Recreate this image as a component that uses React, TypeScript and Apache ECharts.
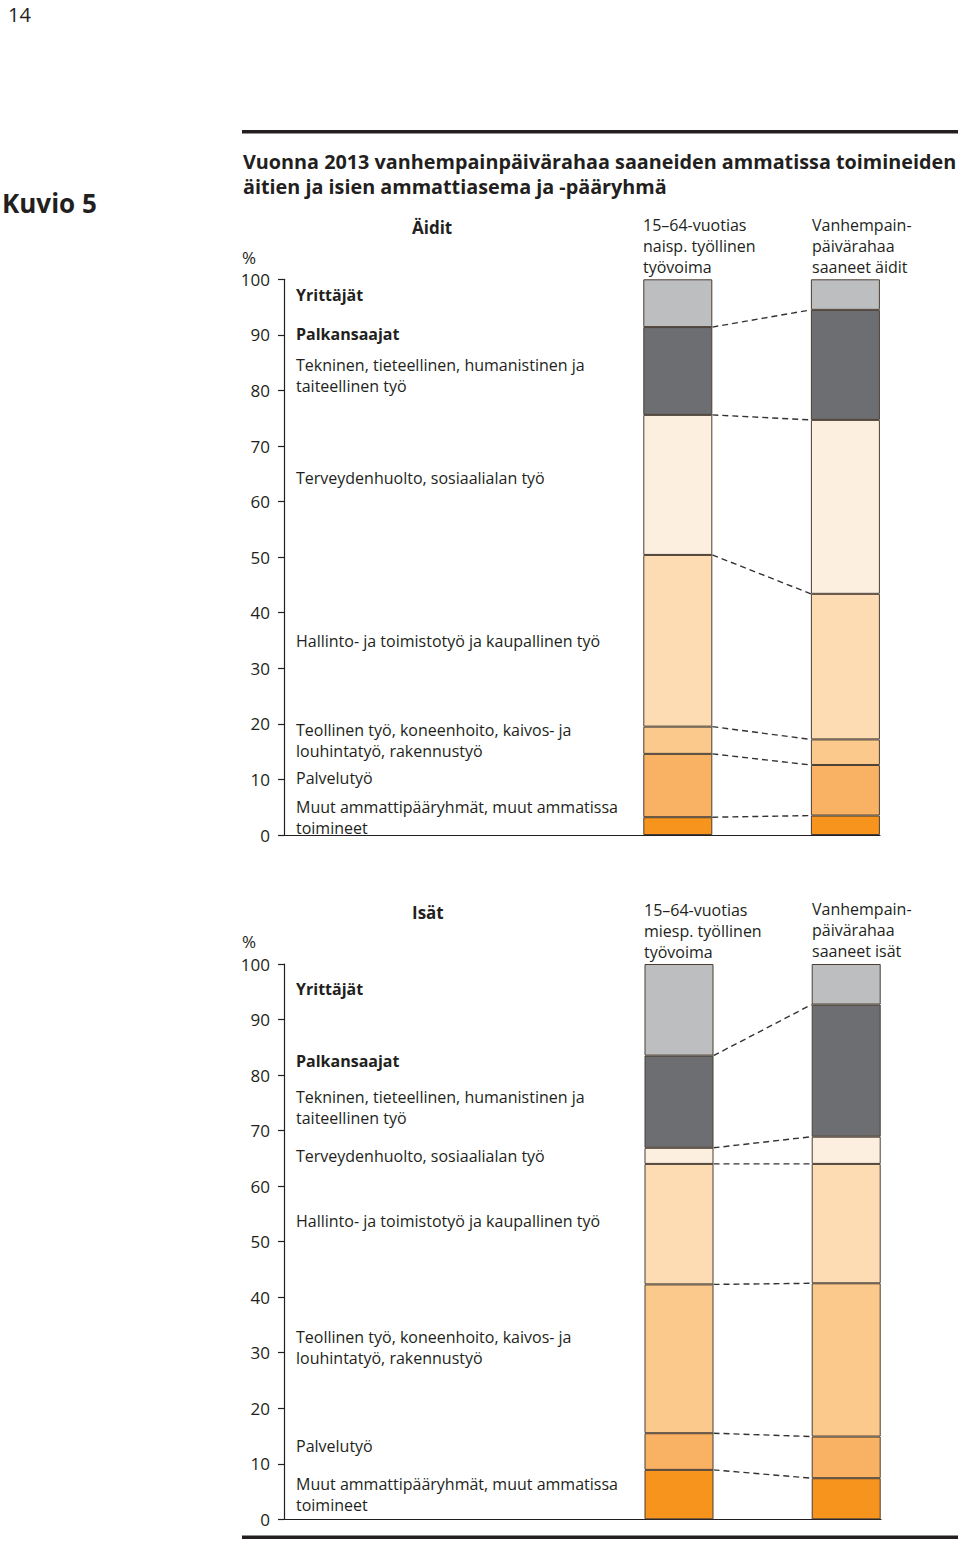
import React, { useEffect, useRef } from "react";
import * as echarts from "echarts";

// Occupational groups, bottom of the stack to top
const groups = [
  "Muut ammattipääryhmät, muut ammatissa toimineet",
  "Palvelutyö",
  "Teollinen työ, koneenhoito, kaivos- ja louhintatyö, rakennustyö",
  "Hallinto- ja toimistotyö ja kaupallinen työ",
  "Terveydenhuolto, sosiaalialan työ",
  "Tekninen, tieteellinen, humanistinen ja taiteellinen työ",
  "Yrittäjät",
];
const groupColors = ["#f7941d", "#f9b163", "#fcc98c", "#fddcb4", "#fdefdf", "#6d6e71", "#bcbec0"];

const motherColumns = ["15–64-vuotias naisp. työllinen työvoima", "Vanhempainpäivärahaa saaneet äidit"];
const fatherColumns = ["15–64-vuotias miesp. työllinen työvoima", "Vanhempainpäivärahaa saaneet isät"];

// Shares (%) per group, bottom to top
const motherWorkforce = [3.2, 11.4, 4.9, 30.9, 25.2, 15.8, 8.6];
const motherRecipients = [3.5, 9.1, 4.6, 26.2, 31.3, 19.8, 5.5];
const fatherWorkforce = [8.9, 6.6, 26.8, 21.7, 2.9, 16.6, 16.5];
const fatherRecipients = [7.4, 7.5, 27.6, 21.5, 4.9, 23.8, 7.3];

const yTicks = [0, 10, 20, 30, 40, 50, 60, 70, 80, 90, 100];

const FONT = "Open Sans";
const INK = "#231f20";
const BAR_W = 69;
const LINE_GAP = 21;

function cumulative(a: number[]) {
  const out: number[] = [];
  let s = 0;
  for (const v of a) {
    s += v;
    out.push(Math.round(s * 10) / 10);
  }
  return out;
}

export default function App() {
  const ref = useRef<HTMLDivElement>(null);
  useEffect(() => {
    if (!ref.current) return;
    const chart = echarts.init(ref.current, undefined, { renderer: "svg" });

    const panels = [
      { top: 279.3, height: 555.7, axisRight: 80, barLeft: 594, barWidth: 335.2, cats: motherColumns, a: motherWorkforce, b: motherRecipients, stack: "m" },
      { top: 964, height: 555.3, axisRight: 79, barLeft: 595.4, barWidth: 334.4, cats: fatherColumns, a: fatherWorkforce, b: fatherRecipients, stack: "f" },
    ];

    const grid: any[] = [];
    const xAxis: any[] = [];
    const yAxis: any[] = [];
    const series: any[] = [];

    panels.forEach((p, pi) => {
      const axisIdx = pi * 2;
      const barIdx = pi * 2 + 1;
      grid.push({ left: 284, right: p.axisRight, top: p.top, height: p.height });
      grid.push({ left: p.barLeft, width: p.barWidth, top: p.top, height: p.height });
      xAxis.push({
        gridIndex: axisIdx, type: "category", data: p.cats,
        axisLine: { show: true, lineStyle: { color: INK, width: 1.2 } },
        axisTick: { show: false }, axisLabel: { show: false },
      });
      xAxis.push({
        gridIndex: barIdx, type: "category", data: p.cats,
        axisLine: { show: false }, axisTick: { show: false }, axisLabel: { show: false },
      });
      yAxis.push({
        gridIndex: axisIdx, type: "value", min: 0, max: 100, interval: 10,
        axisLine: { show: true, lineStyle: { color: INK, width: 1.2 } },
        axisTick: { show: true, length: 6, lineStyle: { color: INK, width: 1.2 } },
        axisLabel: {
          show: true, margin: 14, fontFamily: FONT, fontSize: 17, color: INK,
          formatter: (v: number) => (yTicks.includes(v) ? String(v) : ""),
        },
        splitLine: { show: false },
      });
      yAxis.push({
        gridIndex: barIdx, type: "value", min: 0, max: 100, interval: 10,
        axisLine: { show: false }, axisTick: { show: false }, axisLabel: { show: false }, splitLine: { show: false },
      });

      groups.forEach((g, gi) => {
        series.push({
          type: "bar", name: g, stack: p.stack, xAxisIndex: barIdx, yAxisIndex: barIdx,
          barWidth: BAR_W, data: [p.a[gi], p.b[gi]],
          itemStyle: { color: groupColors[gi], borderColor: "#4a3e33", borderWidth: 1 },
          emphasis: { disabled: true }, silent: true,
        });
      });

      const ca = cumulative(p.a);
      const cb = cumulative(p.b);
      const links = ca.slice(0, ca.length - 1).map((v, i) => [0, v, cb[i]]);
      series.push({
        type: "custom", xAxisIndex: barIdx, yAxisIndex: barIdx, silent: true, z: 5,
        data: links,
        renderItem: (params: any, api: any) => {
          const p0 = api.coord([0, api.value(1)]);
          const p1 = api.coord([1, api.value(2)]);
          return {
            type: "line",
            shape: { x1: p0[0] + BAR_W / 2, y1: p0[1], x2: p1[0] - BAR_W / 2, y2: p1[1] },
            style: { stroke: "#333333", lineWidth: 1.4, lineDash: [6, 4] },
          };
        },
      });
    });

    const graphic: any[] = [];
    // multi-line texts: one text element per line, centred on the given y
    const txt = (text: string, x: number, yc: number, opts: any = {}) => {
      const lines = text.split("\n");
      const y0 = yc - ((lines.length - 1) * LINE_GAP) / 2;
      lines.forEach((line, i) => {
        graphic.push({
          type: "text", x, y: y0 + i * LINE_GAP,
          style: {
            text: line, fill: INK, fontFamily: FONT, fontSize: 16,
            textVerticalAlign: "middle", textAlign: "left", ...opts,
          },
        });
      });
    };

    txt("14", 8, 14.5, { fontSize: 20 });
    graphic.push({ type: "rect", shape: { x: 242, y: 130, width: 716, height: 3.5 }, style: { fill: INK } });
    graphic.push({ type: "rect", shape: { x: 242, y: 1535.5, width: 716, height: 3.5 }, style: { fill: INK } });
    txt("Kuvio 5", 2, 203, { fontSize: 26, fontWeight: "bold" });
    txt("Vuonna 2013 vanhempainpäivärahaa saaneiden ammatissa toimineiden", 243, 161, { fontSize: 19.8, fontWeight: "bold" });
    txt("äitien ja isien ammattiasema ja -pääryhmä", 243, 186, { fontSize: 19.8, fontWeight: "bold" });
    // mothers panel
    txt("Äidit", 412, 227, { fontSize: 17, fontWeight: "bold" });
    txt("15–64-vuotias\nnaisp. työllinen\ntyövoima", 643, 246);
    txt("Vanhempain-\npäivärahaa\nsaaneet äidit", 812, 246);
    txt("%", 242, 257, { fontSize: 17 });
    txt("Yrittäjät", 296, 295, { fontWeight: "bold" });
    txt("Palkansaajat", 296, 334, { fontWeight: "bold" });
    txt("Tekninen, tieteellinen, humanistinen ja\ntaiteellinen työ", 296, 375);
    txt("Terveydenhuolto, sosiaalialan työ", 296, 478);
    txt("Hallinto- ja toimistotyö ja kaupallinen työ", 296, 641);
    txt("Teollinen työ, koneenhoito, kaivos- ja\nlouhintatyö, rakennustyö", 296, 740);
    txt("Palvelutyö", 296, 778);
    txt("Muut ammattipääryhmät, muut ammatissa\ntoimineet", 296, 817);
    // fathers panel
    txt("Isät", 412, 912, { fontSize: 17, fontWeight: "bold" });
    txt("15–64-vuotias\nmiesp. työllinen\ntyövoima", 644, 931);
    txt("Vanhempain-\npäivärahaa\nsaaneet isät", 812, 930);
    txt("%", 242, 941, { fontSize: 17 });
    txt("Yrittäjät", 296, 989, { fontWeight: "bold" });
    txt("Palkansaajat", 296, 1061, { fontWeight: "bold" });
    txt("Tekninen, tieteellinen, humanistinen ja\ntaiteellinen työ", 296, 1107);
    txt("Terveydenhuolto, sosiaalialan työ", 296, 1156);
    txt("Hallinto- ja toimistotyö ja kaupallinen työ", 296, 1221);
    txt("Teollinen työ, koneenhoito, kaivos- ja\nlouhintatyö, rakennustyö", 296, 1347);
    txt("Palvelutyö", 296, 1446);
    txt("Muut ammattipääryhmät, muut ammatissa\ntoimineet", 296, 1494);

    chart.setOption({
      animation: false,
      backgroundColor: "#ffffff",
      textStyle: { fontFamily: FONT },
      grid, xAxis, yAxis, series, graphic,
    });
    return () => chart.dispose();
  }, []);

  return <div ref={ref} style={{ position: "absolute", left: 0, top: 0, width: 960, height: 1545 }} />;
}
